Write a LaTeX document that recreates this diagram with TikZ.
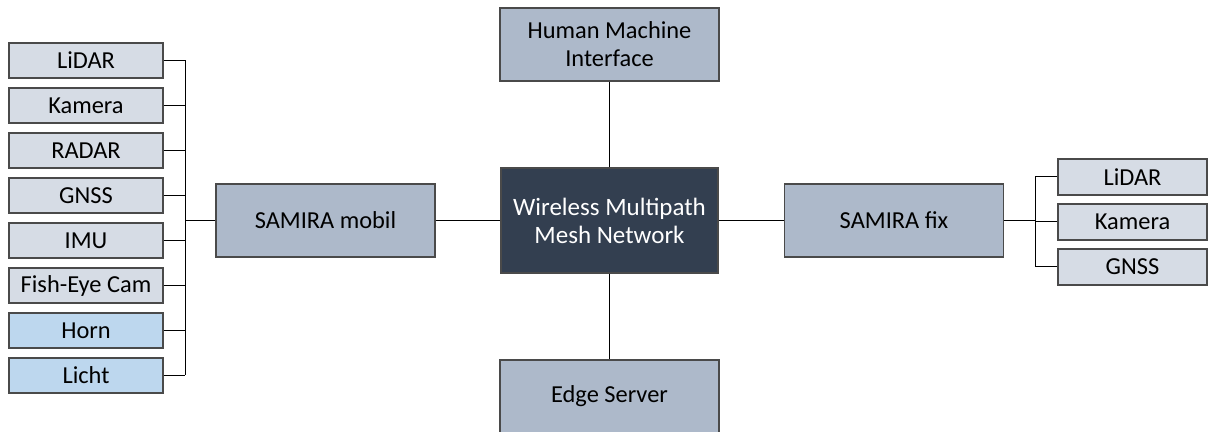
\documentclass[tikz,border=0pt]{standalone}
\usepackage{fontspec}
\setmainfont{Carlito}
\usepackage{xcolor}
\usetikzlibrary{positioning}

\definecolor{sensorgray}{HTML}{D6DCE5}
\definecolor{actorblue}{HTML}{BDD7EE}
\definecolor{unitblue}{HTML}{ADB9CA}
\definecolor{meshdark}{HTML}{333F50}
\definecolor{rimgray}{HTML}{4A4A4A}

\tikzset{
  box/.style={draw=rimgray,line width=0.7pt,rectangle,inner sep=0pt,align=center,
    font=\fontsize{12.2}{14}\selectfont},
  sensor/.style={box,fill=sensorgray,minimum width=77pt,minimum height=17.5pt},
  actor/.style={sensor,fill=actorblue},
  unit/.style={box,fill=unitblue,minimum width=109.5pt,minimum height=36.5pt},
  wire/.style={line width=0.5pt,black}
}

\begin{document}
\begin{tikzpicture}[x=0.5pt,y=-0.5pt]
\useasboundingbox[fill=white] (0,0) rectangle (1209,432);

% central network
\node[box,fill=meshdark,text=white,minimum width=108.5pt,minimum height=52.5pt,
  font=\fontsize{12.5}{14}\selectfont] (mesh) at (609.5,220.5) {Wireless Multipath\\Mesh Network};
\node[unit] (hmi) at (609.5,44.5) {Human Machine\\Interface};
\node[unit] (edge) at (609.5,396.5) {Edge Server};
\node[unit] (mobil) at (325.5,220.5) {SAMIRA mobil};
\node[unit] (fix) at (894,220.5) {SAMIRA fix};

% sensors of the mobile unit
\foreach \name [count=\i] in {LiDAR,Kamera,RADAR,GNSS,IMU,Fish-Eye Cam}
  \node[sensor] (m\i) at (86,{60.5+45*(\i-1)}) {\name};
\node[actor] (m7) at (86,330.5) {Horn};
\node[actor] (m8) at (86,375.5) {Licht};

% sensors of the fixed unit
\node[sensor,minimum width=74.5pt,minimum height=18pt] (f1) at (1132.5,177) {LiDAR};
\node[sensor,minimum width=74.5pt,minimum height=18pt] (f2) at (1132.5,222) {Kamera};
\node[sensor,minimum width=74.5pt,minimum height=18pt] (f3) at (1132.5,267) {GNSS};

\coordinate (lbus) at (185,220.5);
\coordinate (rbus) at (1035,222);

\draw[wire] (hmi) -- (mesh);
\draw[wire] (mesh) -- (edge);
\draw[wire] (mobil) -- (mesh);
\draw[wire] (mesh) -- (fix);

\foreach \i in {1,...,8}
  \draw[wire] (m\i.east) -- (m\i.east -| lbus);
\draw[wire] (m1.east -| lbus) -- (m8.east -| lbus);
\draw[wire] (lbus) -- (mobil.west);

\foreach \i in {1,2,3}
  \draw[wire] (f\i.west) -- (f\i.west -| rbus);
\draw[wire] (f1.west -| rbus) -- (f3.west -| rbus);
\draw[wire] (fix.east) -- (fix.east -| rbus);
\end{tikzpicture}
\end{document}
